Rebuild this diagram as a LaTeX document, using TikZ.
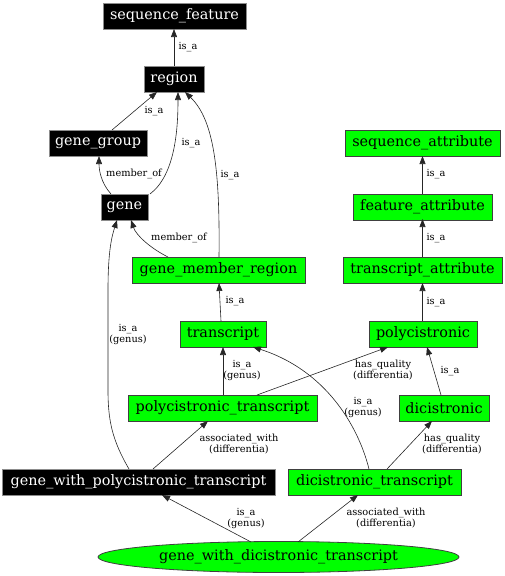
\documentclass[tikz,border=0pt]{standalone}
\usepackage{fontspec}
\setmainfont{DejaVu Serif}
\usetikzlibrary{arrows.meta,shapes.geometric}
\definecolor{gvgreen}{HTML}{00FF00}
\tikzset{
  x=1pt,y=-1pt,
  base/.style={rectangle,inner sep=0pt,minimum height=26pt,font=\fontsize{14.4}{16}\selectfont,line width=0.8pt},
  blk/.style={base,fill=black,draw=black!45,text=white},
  grn/.style={base,fill=gvgreen,draw=black!75,text=black},
  lbl/.style={font=\fontsize{9.8}{11}\selectfont,align=center,inner sep=0pt},
  edge/.style={draw=black!85,line width=0.6pt,-{Triangle[length=8pt,width=6pt]}},
}
\begin{document}
\begin{tikzpicture}
\useasboundingbox (0,0) rectangle (505,576);
% nodes
\node[blk,minimum width=143pt] (sf) at (174.5,16) {sequence\_feature};
\node[blk,minimum width=60pt] (region) at (174,79) {region};
\node[blk,minimum width=98pt] (gg) at (98,143) {gene\_group};
\node[blk,minimum width=47pt] (gene) at (124.5,207) {gene};
\node[grn,minimum width=173pt] (gmr) at (218.5,270) {gene\_member\_region};
\node[grn,minimum width=155pt] (sa) at (422.5,143) {sequence\_attribute};
\node[grn,minimum width=139pt] (fa) at (422.5,207) {feature\_attribute};
\node[grn,minimum width=159pt] (ta) at (422.5,270) {transcript\_attribute};
\node[grn,minimum width=108pt] (poly) at (423,334) {polycistronic};
\node[grn,minimum width=86pt] (tr) at (223,334) {transcript};
\node[grn,minimum width=189pt] (pt) at (222.5,408) {polycistronic\_transcript};
\node[grn,minimum width=90pt] (di) at (444,408) {dicistronic};
\node[blk,minimum width=273pt] (gwpt) at (138.5,482) {gene\_with\_polycistronic\_transcript};
\node[grn,minimum width=173pt] (dt) at (374.5,482) {dicistronic\_transcript};
\node[ellipse,fill=gvgreen,draw=black!75,line width=0.8pt,minimum width=361pt,minimum height=31pt,inner sep=0pt,font=\fontsize{14.4}{16}\selectfont] (gwdt) at (278.5,557) {gene\_with\_dicistronic\_transcript};
% edge anchor coordinates
\coordinate (e1s) at (174,66); \coordinate (e1t) at (174,29);
\coordinate (e2s) at (112,130); \coordinate (e2t) at (157,92);
\coordinate (e3s) at (150,194); \coordinate (e3t) at (178,92);
\coordinate (e4s) at (111,194); \coordinate (e4t) at (99,156);
\coordinate (e5s) at (219,257); \coordinate (e5t) at (185,92);
\coordinate (e6s) at (168,257); \coordinate (e6t) at (131,220);
\coordinate (e7s) at (221,321); \coordinate (e7t) at (219,283);
\coordinate (e8s) at (422.5,257); \coordinate (e8t) at (422.5,219);
\coordinate (e9s) at (422.5,194); \coordinate (e9t) at (422.5,156);
\coordinate (e10s) at (422.5,321); \coordinate (e10t) at (422.5,283);
\coordinate (e11s) at (223,395); \coordinate (e11t) at (223,347);
\coordinate (e12s) at (257,395); \coordinate (e12t) at (388,347);
\coordinate (e13s) at (441,395); \coordinate (e13t) at (427,347);
\coordinate (e14s) at (369,469); \coordinate (e14t) at (253,347);
\coordinate (e15s) at (387,469); \coordinate (e15t) at (432,421);
\coordinate (e16s) at (153,469); \coordinate (e16t) at (208,421);
\coordinate (e17s) at (129,469); \coordinate (e17t) at (117,220);
\coordinate (e18s) at (251,542); \coordinate (e18t) at (162,495);
\coordinate (e19s) at (298,542); \coordinate (e19t) at (358,495);
% edges
\draw[edge] (e1s) -- (e1t);
\draw[edge] (e2s) -- (e2t);
\draw[edge] (e3s) .. controls (175,175) and (178,130) .. (e3t);
\draw[edge] (e4s) .. controls (101,183) and (99,170) .. (e4t);
\draw[edge] (e5s) .. controls (220,170) and (214,120) .. (e5t);
\draw[edge] (e6s) .. controls (150,248) and (136,235) .. (e6t);
\draw[edge] (e7s) -- (e7t);
\draw[edge] (e8s) -- (e8t);
\draw[edge] (e9s) -- (e9t);
\draw[edge] (e10s) -- (e10t);
\draw[edge] (e11s) -- (e11t);
\draw[edge] (e12s) -- (e12t);
\draw[edge] (e13s) -- (e13t);
\draw[edge] (e14s) .. controls (358,425) and (325,370) .. (e14t);
\draw[edge] (e15s) -- (e15t);
\draw[edge] (e16s) -- (e16t);
\draw[edge] (e17s) .. controls (112,440) and (108,420) .. (108,390) -- (108,290) .. controls (108,250) and (112,236) .. (e17t);
\draw[edge] (e18s) -- (e18t);
\draw[edge] (e19s) -- (e19t);
% labels
\node[lbl] (l1) at (188,47) {is\_a};
\node[lbl] (l2) at (154,111) {is\_a};
\node[lbl] (l3) at (191,143) {is\_a};
\node[lbl] (l4) at (134,174) {member\_of};
\node[lbl] (l5) at (230,175) {is\_a};
\node[lbl] (l6) at (179,238) {member\_of};
\node[lbl] (l7) at (235,301) {is\_a};
\node[lbl] (l8) at (436,238) {is\_a};
\node[lbl] (l9) at (436,174) {is\_a};
\node[lbl] (l10) at (436,302) {is\_a};
\node[lbl] (l11) at (242,370) {is\_a\\(genus)};
\node[lbl] (l12) at (383,370) {has\_quality\\(differentia)};
\node[lbl] (l13) at (450,371) {is\_a};
\node[lbl] (l14) at (363,407) {is\_a\\(genus)};
\node[lbl] (l15) at (452,444) {has\_quality\\(differentia)};
\node[lbl] (l16) at (239,444) {associated\_with\\(differentia)};
\node[lbl] (l17) at (128,334) {is\_a\\(genus)};
\node[lbl] (l18) at (246,518) {is\_a\\(genus)};
\node[lbl] (l19) at (386,518) {associated\_with\\(differentia)};
\end{tikzpicture}
\end{document}
